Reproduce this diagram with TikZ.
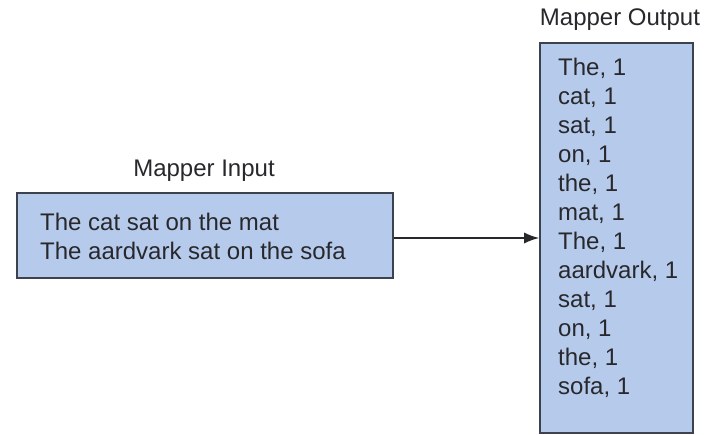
\documentclass[tikz,border=0pt]{standalone}
\usepackage{fontspec}
\setmainfont{Liberation Sans}
\usetikzlibrary{arrows.meta}
\definecolor{boxfill}{RGB}{182,203,236}
\definecolor{boxline}{RGB}{60,66,78}
\definecolor{inktext}{RGB}{40,40,44}
\tikzset{
  panel/.style={draw=boxline, line width=1.6pt, fill=boxfill, rectangle, inner sep=0pt},
  words/.style={font=\fontsize{24}{29}\selectfont, text=inktext, align=left, inner sep=0pt},
  caption/.style={font=\fontsize{24}{29}\selectfont, text=inktext, inner sep=0pt},
  flow/.style={draw=inktext, line width=1.4pt, -{Latex[length=15pt,width=11pt]}}
}
\begin{document}
\begin{tikzpicture}[x=1pt,y=-1pt]
  \useasboundingbox (0,0) rectangle (705,435);

  % mapper input
  \node[panel, minimum width=376pt, minimum height=85pt] (in) at (205,235.5) {};
  \node[words, anchor=west] (intext) at (40,236.5)
    {The cat sat on the mat\\The aardvark sat on the sofa};
  \node[caption] (intitle) at (204,171) {Mapper Input};

  % mapper output
  \node[panel, minimum width=153pt, minimum height=390pt] (out) at (616.5,238) {};
  \node[words, anchor=west] (outtext) at (558,228)
    {The, 1\\cat, 1\\sat, 1\\on, 1\\the, 1\\mat, 1\\The, 1\\aardvark, 1\\sat, 1\\on, 1\\the, 1\\sofa, 1};
  \node[caption] (outtitle) at (620,20) {Mapper Output};

  % connector
  \draw[flow] (in.east |- 0,238) coordinate (src) -- (out.west |- src);
\end{tikzpicture}
\end{document}
